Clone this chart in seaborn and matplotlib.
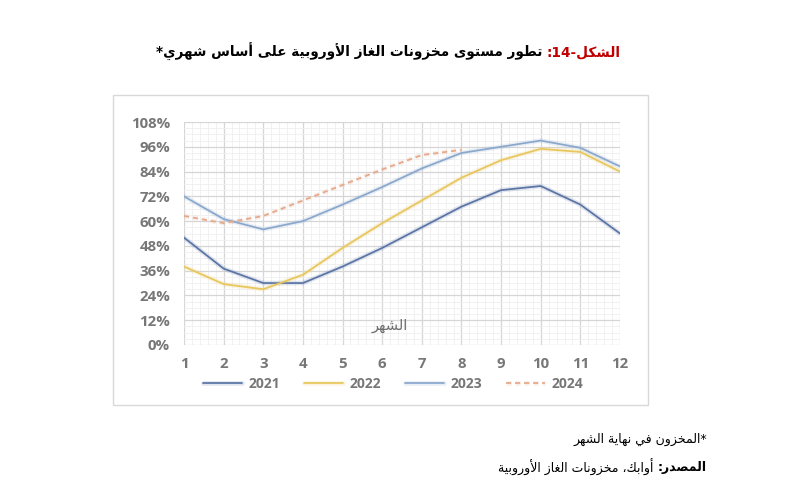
import re
import numpy as np
import pandas as pd
import matplotlib
matplotlib.use("Agg")
import matplotlib.pyplot as plt
import matplotlib.patheffects as pe
from matplotlib.patches import Rectangle
from matplotlib.ticker import MultipleLocator, FuncFormatter
import seaborn as sns

# ---------------- data ----------------
months = list(range(1, 13))
y2021 = [52, 37, 30, 30, 38, 47, 57, 67, 75, 77, 68, 54]
y2022 = [38, 29.5, 27, 34, 47, 59, 70, 81, 89.5, 95, 93.5, 84]
y2023 = [72, 61, 56, 60, 68, 76.5, 85.5, 93, 96, 99, 95.5, 86.5]
y2024 = [62.5, 59, 62.5, 70, 77.5, 85, 92, 94.5]
years = ["2021", "2022", "2023", "2024"]

title_red = "الشكل-14:"
title_black = " تطور مستوى مخزونات الغاز الأوروبية على أساس شهري*"
xlabel_txt = "الشهر"
note1 = "*المخزون في نهاية الشهر"
src_bold = "المصدر:"
src_rest = " أوابك، مخزونات الغاز الأوروبية"

# ---------------- arabic shaping (presentation forms + visual order) ----------------
FORMS = {
    '\u0627': ('\uFE8D', '\uFE8E', None, None),
    '\u0623': ('\uFE83', '\uFE84', None, None),
    '\u0628': ('\uFE8F', '\uFE90', '\uFE91', '\uFE92'),
    '\u0629': ('\uFE93', '\uFE94', None, None),
    '\u062A': ('\uFE95', '\uFE96', '\uFE97', '\uFE98'),
    '\u062E': ('\uFEA5', '\uFEA6', '\uFEA7', '\uFEA8'),
    '\u062F': ('\uFEA9', '\uFEAA', None, None),
    '\u0631': ('\uFEAD', '\uFEAE', None, None),
    '\u0632': ('\uFEAF', '\uFEB0', None, None),
    '\u0633': ('\uFEB1', '\uFEB2', '\uFEB3', '\uFEB4'),
    '\u0634': ('\uFEB5', '\uFEB6', '\uFEB7', '\uFEB8'),
    '\u0635': ('\uFEB9', '\uFEBA', '\uFEBB', '\uFEBC'),
    '\u0637': ('\uFEC1', '\uFEC2', '\uFEC3', '\uFEC4'),
    '\u0639': ('\uFEC9', '\uFECA', '\uFECB', '\uFECC'),
    '\u063A': ('\uFECD', '\uFECE', '\uFECF', '\uFED0'),
    '\u0641': ('\uFED1', '\uFED2', '\uFED3', '\uFED4'),
    '\u0643': ('\uFED9', '\uFEDA', '\uFEDB', '\uFEDC'),
    '\u0644': ('\uFEDD', '\uFEDE', '\uFEDF', '\uFEE0'),
    '\u0645': ('\uFEE1', '\uFEE2', '\uFEE3', '\uFEE4'),
    '\u0646': ('\uFEE5', '\uFEE6', '\uFEE7', '\uFEE8'),
    '\u0647': ('\uFEE9', '\uFEEA', '\uFEEB', '\uFEEC'),
    '\u0648': ('\uFEED', '\uFEEE', None, None),
    '\u0649': ('\uFEEF', '\uFEF0', None, None),
    '\u064A': ('\uFEF1', '\uFEF2', '\uFEF3', '\uFEF4'),
}
LAMALEF = {'\u0627': ('\uFEFB', '\uFEFC'), '\u0623': ('\uFEF7', '\uFEF8')}


def shape(s):
    out = []
    n = len(s)
    i = 0
    while i < n:
        c = s[i]
        if c not in FORMS:
            out.append(c)
            i += 1
            continue
        prev = s[i - 1] if i > 0 else None
        jp = prev is not None and prev in FORMS and FORMS[prev][2] is not None
        if c == '\u0644' and i + 1 < n and s[i + 1] in LAMALEF:
            iso, fin = LAMALEF[s[i + 1]]
            out.append(fin if jp else iso)
            i += 2
            continue
        nxt = s[i + 1] if i + 1 < n else None
        jn = FORMS[c][2] is not None and nxt is not None and nxt in FORMS
        iso, fin, ini, med = FORMS[c]
        if jp and jn:
            out.append(med)
        elif jp:
            out.append(fin)
        elif jn:
            out.append(ini)
        else:
            out.append(iso)
        i += 1
    return ''.join(out)


def ar(s):
    shaped = shape(s)
    tokens = re.findall(r'[0-9]+|[^0-9]+', shaped)
    return ''.join(t if t.isdigit() else t[::-1] for t in reversed(tokens))


# ---------------- figure ----------------
sns.set_theme(style="white")
plt.rcParams['font.family'] = ['DejaVu Sans']

W, H = 809, 487
fig = plt.figure(figsize=(W / 100, H / 100), dpi=100)
fig.patch.set_facecolor("white")


def fx(px):
    return px / W


def fy(py):
    return 1 - py / H


# outer chart frame
fig.patches.append(Rectangle((fx(113), fy(405)), fx(648) - fx(113), fy(95) - fy(405),
                             transform=fig.transFigure, fill=False,
                             edgecolor="#d9d9d9", linewidth=1.0, zorder=0))

ax = fig.add_axes([fx(184), fy(345), fx(620) - fx(184), fy(122) - fy(345)])

rows = []
for yr, vals in zip(years, [y2021, y2022, y2023, y2024]):
    for m, v in zip(months, vals):
        rows.append({"month": m, "value": v, "year": yr})
df = pd.DataFrame(rows)

palette = {"2021": "#5a74a6", "2022": "#e8c65c", "2023": "#8aa7cc", "2024": "#e6a88a"}
dashes = {"2021": "", "2022": "", "2023": "", "2024": (3, 2.2)}

sns.lineplot(data=df, x="month", y="value", hue="year", style="year",
             palette=palette, dashes=dashes, linewidth=1.25, ax=ax, zorder=3)

for line in ax.get_lines():
    col = line.get_color()
    line.set_path_effects([pe.Stroke(linewidth=3.4, foreground=col, alpha=0.18), pe.Normal()])

ax.set_xlim(1, 12)
ax.set_ylim(0, 108)
ax.xaxis.set_major_locator(MultipleLocator(1))
ax.xaxis.set_minor_locator(MultipleLocator(0.2))
ax.yaxis.set_major_locator(MultipleLocator(12))
ax.yaxis.set_minor_locator(MultipleLocator(3))
ax.yaxis.set_major_formatter(FuncFormatter(lambda v, p: f"{int(round(v))}%"))
ax.grid(True, which="major", color="#d6d6d6", linewidth=0.9, zorder=0)
ax.grid(True, which="minor", color="#efefef", linewidth=0.6, zorder=0)
ax.set_axisbelow(True)
for sp in ax.spines.values():
    sp.set_visible(False)
ax.tick_params(axis="both", which="both", length=0)
ax.tick_params(axis="y", pad=10)
ax.tick_params(axis="x", pad=9)
for lab in ax.get_xticklabels() + ax.get_yticklabels():
    lab.set_fontfamily("Open Sans")
    lab.set_fontweight("bold")
    lab.set_fontsize(10.8)
    lab.set_color("#777777")
ax.set_xlabel("")
ax.set_ylabel("")

ax.text(6.2, 9.5, ar(xlabel_txt), fontsize=10.5, color="#6f6f6f", ha="center", va="center")

handles, labels = ax.get_legend_handles_labels()
leg = ax.legend(handles, labels, loc="center", bbox_to_anchor=(0.48, -0.175),
                ncol=4, frameon=False, handlelength=2.8, columnspacing=1.7,
                handletextpad=0.5, prop={"family": "Open Sans", "weight": "bold", "size": 10})
for t in leg.get_texts():
    t.set_color("#777777")

# ---------------- title and notes ----------------
renderer = fig.canvas.get_renderer()
tr = fig.text(fx(621), fy(52), ar(title_red), color="#c00000", fontsize=9.8,
              fontweight="bold", ha="right", va="center")
bb = tr.get_window_extent(renderer)
fig.text(bb.x0 / W, fy(52), ar(title_black), color="black", fontsize=9.8,
         fontweight="bold", ha="right", va="center")

fig.text(fx(707), fy(439), ar(note1), color="black", fontsize=9, ha="right", va="center")
sb = fig.text(fx(707), fy(467), ar(src_bold), color="black", fontsize=9,
              fontweight="bold", ha="right", va="center")
bb2 = sb.get_window_extent(renderer)
fig.text(bb2.x0 / W, fy(467), ar(src_rest), color="black", fontsize=9,
         ha="right", va="center")

fig.savefig("out.png", dpi=100, facecolor="white")
